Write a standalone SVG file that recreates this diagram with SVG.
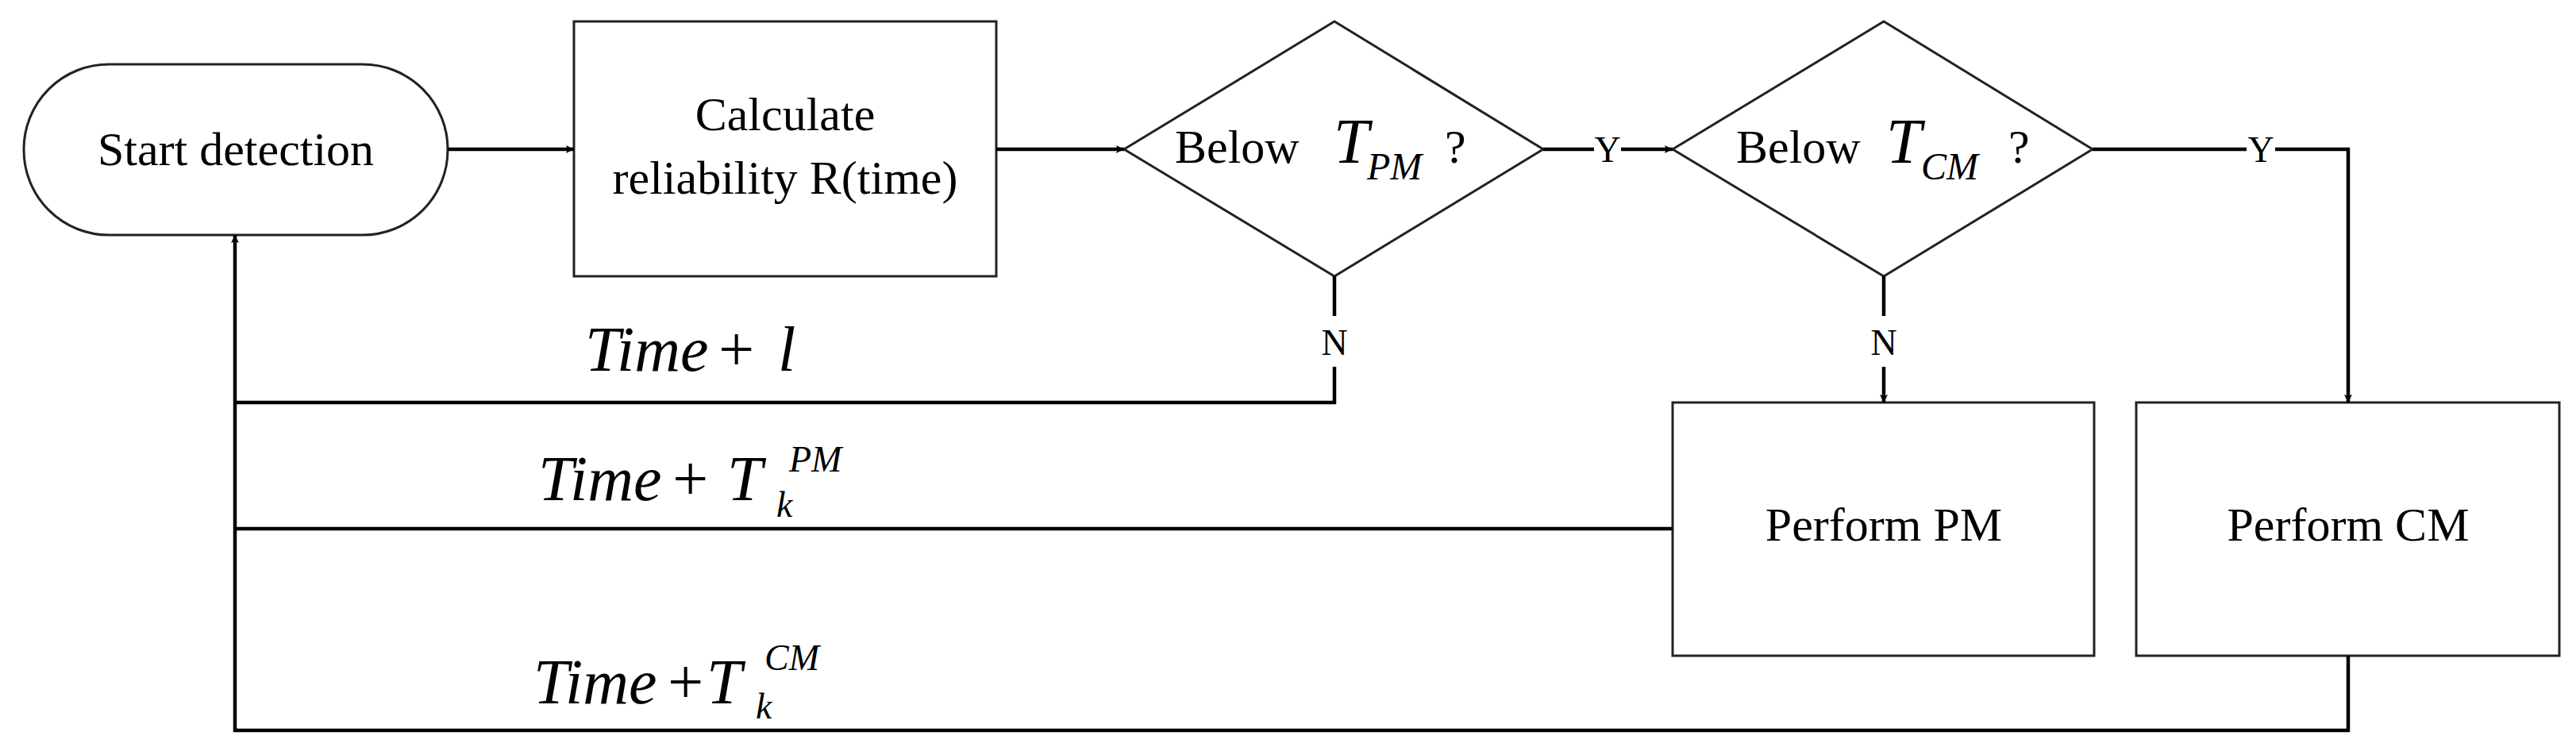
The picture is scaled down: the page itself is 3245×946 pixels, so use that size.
<svg xmlns="http://www.w3.org/2000/svg" width="3245" height="946" viewBox="0 0 3245 946">
<defs>
<marker id="ah" viewBox="0 0 10 10" refX="10" refY="5" markerWidth="10" markerHeight="10" markerUnits="userSpaceOnUse" orient="auto">
<path d="M0,0 L10,5 L0,10 L2,5 Z" fill="#000"/>
</marker>
<style>
.s{fill:#fff;stroke:#222;stroke-width:3}
.c{fill:none;stroke:#000;stroke-width:4.5}
.t{font-family:"Liberation Serif",serif;font-size:60px;fill:#000}
.i{font-family:"Liberation Serif",serif;font-style:italic;fill:#000}
.yn{font-family:"Liberation Serif",serif;font-size:46px;fill:#000;text-anchor:middle}
</style>
</defs>
<rect width="3245" height="946" fill="#fff"/>
<g id="start"><rect class="s" x="30" y="81" width="534" height="215" rx="107" ry="107"/><text class="t" x="297" y="208" text-anchor="middle">Start detection</text></g>
<g id="calc"><rect class="s" x="723" y="27" width="532" height="321"/><text class="t" x="989" y="164" text-anchor="middle">Calculate</text><text class="t" x="989" y="244" text-anchor="middle">reliability R(time)</text></g>
<g id="d1"><polygon class="s" points="1416,188 1681,27 1944,188 1681,348"/><text class="t" x="1480" y="205">Below</text><text class="i" x="1680" y="205" font-size="80">T</text><text class="i" x="1722" y="226" font-size="48">PM</text><text class="t" x="1820" y="205">?</text></g>
<g id="d2"><polygon class="s" points="2107,188 2373,27 2636,188 2373,348"/><text class="t" x="2187" y="205">Below</text><text class="i" x="2376" y="205" font-size="80">T</text><text class="i" x="2420" y="226" font-size="48">CM</text><text class="t" x="2530" y="205">?</text></g>
<g id="pm"><rect class="s" x="2107" y="507" width="531" height="319"/><text class="t" x="2373" y="681" text-anchor="middle">Perform PM</text></g>
<g id="cm"><rect class="s" x="2691" y="507" width="533" height="319"/><text class="t" x="2958" y="681" text-anchor="middle">Perform CM</text></g>
<g id="connectors">
<line class="c" x1="564" y1="188" x2="723" y2="188" marker-end="url(#ah)"/>
<line class="c" x1="1255" y1="188" x2="1416" y2="188" marker-end="url(#ah)"/>
<path class="c" d="M1944,188 H2008 M2042,188 H2107" marker-end="url(#ah)"/>
<path class="c" d="M2636,188 H2830 M2866,188 H2958 V507" marker-end="url(#ah)"/>
<path class="c" d="M2373,348 V398 M2373,462 V507" marker-end="url(#ah)"/>
<path class="c" d="M1681,348 V398 M1681,462 V507 H296"/>
<line class="c" x1="2107" y1="666" x2="296" y2="666"/>
<path class="c" d="M2958,826 V920 H296 V296" marker-end="url(#ah)"/>
<text class="yn" x="2025" y="204">Y</text>
<text class="yn" x="2848" y="204">Y</text>
<text class="yn" x="1681" y="447">N</text>
<text class="yn" x="2373" y="447">N</text>
<text class="i" font-size="80" x="737" y="467">Time<tspan x="900">+</tspan><tspan x="980">l</tspan></text>
<text class="i" font-size="80" x="678" y="630">Time<tspan x="842">+</tspan><tspan x="916">T</tspan></text>
<text class="i" font-size="46" x="978" y="651">k</text>
<text class="i" font-size="46" x="994" y="594">PM</text>
<text class="i" font-size="80" x="672" y="886">Time<tspan x="836">+</tspan><tspan x="890">T</tspan></text>
<text class="i" font-size="46" x="952" y="905">k</text>
<text class="i" font-size="46" x="963" y="844">CM</text>
</g>
</svg>
